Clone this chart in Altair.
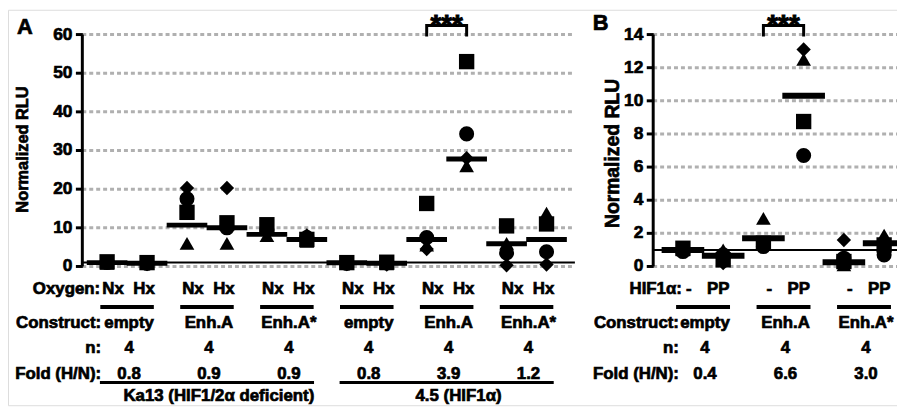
import altair as alt
import pandas as pd

FONT = "Liberation Sans"

# ---------------- Panel A data ----------------
a_oxygen = ["Nx", "Hx"] * 6
a_construct = ["empty", "Enh.A", "Enh.A*", "empty", "Enh.A", "Enh.A*"]
a_n = ["4"] * 6
a_fold = ["0.8", "0.9", "0.9", "0.8", "3.9", "1.2"]
a_groups = ["Ka13 (HIF1/2\u03b1 deficient)", "4.5 (HIF1\u03b1)"]
a_square = [1.2, 1.0, 14.0, 11.3, 10.8, 7.0, 1.0, 1.1, 16.3, 53.0, 10.5, 11.0]
a_circle = [1.0, 0.8, 17.5, 10.0, 9.5, 7.5, 0.8, 0.9, 7.5, 34.3, 3.5, 3.8]
a_triangle = [0.8, 0.9, 6.0, 6.0, 8.0, 6.5, 0.9, 0.7, 5.5, 26.0, 6.0, 13.8]
a_diamond = [1.1, 0.6, 20.3, 20.3, 9.0, 8.0, 0.6, 0.5, 4.5, 28.0, 0.3, 0.5]
a_mean = [1.0, 0.85, 10.7, 10.0, 8.3, 7.0, 0.95, 0.85, 7.0, 27.8, 5.9, 7.0]
a_yticks = [0, 10, 20, 30, 40, 50, 60]
a_sig = [8, 9]

# ---------------- Panel B data ----------------
b_hif = ["-", "PP"] * 3
b_construct = ["empty", "Enh.A", "Enh.A*"]
b_n = ["4"] * 3
b_fold = ["0.4", "6.6", "3.0"]
b_square = [1.1, 0.4, 1.4, 8.75, 0.3, 1.3]
b_circle = [0.9, 0.7, 1.2, 6.7, 0.5, 0.7]
b_triangle = [1.0, 1.0, 2.9, 12.5, 0.1, 1.9]
b_diamond = [1.0, 0.2, 1.3, 13.1, 1.6, 1.2]
b_mean = [1.0, 0.65, 1.7, 10.3, 0.25, 1.4]
b_yticks = [0, 2, 4, 6, 8, 10, 12, 14]
b_sig = [2, 3]

rows_a = ["Oxygen:", "Construct:", "n:", "Fold (H/N):"]
rows_b = ["HIF1\u03b1:", "Construct:", "n:", "Fold (H/N):"]
ytitle = "Normalized RLU"
stars = "***"

SHAPES = ["square", "circle", "triangle", "diamond"]
shape_scale = alt.Scale(domain=SHAPES, range=["square", "circle", "triangle-up", "diamond"])
size_scale = alt.Scale(domain=SHAPES, range=[240, 210, 270, 250])

ROW_Y = dict(top=282, uline=300, construct=316, n=341, fold=368, fline=376, group=390)


def one(text):
    return pd.DataFrame({"t": [text]})


def txt(data, **kw):
    base = dict(font=FONT, fontWeight="bold", fontSize=17, color="black", baseline="middle",
                stroke="black", strokeWidth=0.7)
    base.update(kw)
    return alt.Chart(data).mark_text(**base)


def panel(reps, means, yticks, xdom, xrange, ymax, cat_labels, cat_dx, pairs, n, fold,
          rows, row_right, sig, tick_size, tick_thick, title_letter, letter_xy,
          title_xy, title_size, groups=None):
    xs = alt.Scale(domain=xdom, range=xrange, nice=False, zero=False)
    ys = alt.Scale(domain=[0, ymax], range=[259, 25], nice=False)
    X = lambda f: alt.X(f, scale=xs, axis=None)
    Y = lambda f: alt.Y(f, scale=ys, axis=None)
    ncat = len(means)

    pts = pd.DataFrame(
        [{"idx": i, "v": vals[i], "rep": s} for s, vals in zip(SHAPES, reps) for i in range(ncat)]
    )
    mdf = pd.DataFrame({"idx": list(range(ncat)), "m": means})
    tdf = pd.DataFrame({"y": yticks, "lo": xdom[0], "hi": xdom[1]})
    axdf = pd.DataFrame({"x": [xdom[0]], "y0": [0], "y1": [ymax]})
    refdf = pd.DataFrame({"lo": [xdom[0]], "hi": [xdom[1]], "y": [1]})
    catdf = pd.DataFrame({"idx": list(range(ncat)), "lab": cat_labels, "k": [i % 2 for i in range(ncat)]})
    npair = ncat // 2
    pdf = pd.DataFrame({
        "c": [2 * p + 0.5 for p in range(npair)],
        "construct": pairs, "n": n, "fold": fold,
    })
    pdf["lo"] = pdf["c"] - 0.67
    pdf["hi"] = pdf["c"] + 0.67
    br = pd.DataFrame({"x": [sig[0], sig[0], sig[1], sig[1]],
                       "y": [ymax * 0.992, ymax * 1.039, ymax * 1.039, ymax * 0.992],
                       "o": [0, 1, 2, 3]})
    sdf = pd.DataFrame({"c": [(sig[0] + sig[1]) / 2], "t": [stars]})

    layers = [
        alt.Chart(tdf).mark_rule(color="#b0b0b0", strokeWidth=3, strokeDash=[4, 3]).encode(
            x=X("lo:Q"), x2="hi:Q", y=Y("y:Q")),
        alt.Chart(refdf).mark_rule(color="black", strokeWidth=2).encode(
            x=X("lo:Q"), x2="hi:Q", y=Y("y:Q")),
        alt.Chart(mdf).mark_tick(orient="horizontal", size=tick_size, thickness=tick_thick,
                                 color="black", opacity=1).encode(x=X("idx:Q"), y=Y("m:Q")),
        alt.Chart(pts).mark_point(filled=True, color="black", opacity=1).encode(
            x=X("idx:Q"), y=Y("v:Q"),
            shape=alt.Shape("rep:N", scale=shape_scale, legend=None),
            size=alt.Size("rep:N", scale=size_scale, legend=None)),
        alt.Chart(axdf).mark_rule(color="black", strokeWidth=3).encode(
            x=X("x:Q"), y=Y("y0:Q"), y2="y1:Q"),
        alt.Chart(tdf).mark_tick(orient="horizontal", size=7, thickness=3, color="black",
                                 xOffset=-3, opacity=1).encode(x=X("lo:Q"), y=Y("y:Q")),
        txt(tdf, align="right", dx=-10, fontSize=17.5).encode(x=X("lo:Q"), y=Y("y:Q"), text="y:Q"),
        alt.Chart(br).mark_line(color="black", strokeWidth=3, strokeCap="butt").encode(
            x=X("x:Q"), y=Y("y:Q"), order="o:Q"),
        txt(sdf, fontSize=28, baseline="alphabetic", strokeWidth=1).encode(
            x=X("c:Q"), y=alt.value(24), text="t:N"),
        # category labels row
        txt(catdf[catdf.k == 0], dx=cat_dx[0]).encode(x=X("idx:Q"), y=alt.value(ROW_Y["top"]), text="lab:N"),
        txt(catdf[catdf.k == 1], dx=cat_dx[1]).encode(x=X("idx:Q"), y=alt.value(ROW_Y["top"]), text="lab:N"),
        alt.Chart(pdf).mark_rule(color="black", strokeWidth=4).encode(
            x=X("lo:Q"), x2="hi:Q", y=alt.value(ROW_Y["uline"])),
        txt(pdf, dx=2).encode(x=X("c:Q"), y=alt.value(ROW_Y["construct"]), text="construct:N"),
        txt(pdf, dx=2).encode(x=X("c:Q"), y=alt.value(ROW_Y["n"]), text="n:N"),
        txt(pdf, dx=2).encode(x=X("c:Q"), y=alt.value(ROW_Y["fold"]), text="fold:N"),
    ]
    for lab, key in zip(rows, ["top", "construct", "n", "fold"]):
        layers.append(txt(one(lab), align="right").encode(
            x=alt.value(row_right[0] if key == "top" else row_right[1]),
            y=alt.value(ROW_Y[key]), text="t:N"))
    # panel letter and y title
    layers.append(txt(one(title_letter), fontSize=22, baseline="alphabetic", align="left").encode(
        x=alt.value(letter_xy[0]), y=alt.value(letter_xy[1]), text="t:N"))
    layers.append(txt(one(ytitle), fontSize=title_size, angle=270).encode(
        x=alt.value(title_xy[0]), y=alt.value(title_xy[1]), text="t:N"))
    if groups is not None:
        gdf = pd.DataFrame({"c": [2.5, 8.5], "g": groups})
        gdf["lo"] = gdf["c"] - 2.68
        gdf["hi"] = gdf["c"] + 2.68
        layers.append(alt.Chart(gdf).mark_rule(color="black", strokeWidth=3).encode(
            x=X("lo:Q"), x2="hi:Q", y=alt.value(ROW_Y["fline"])))
        layers.append(txt(gdf, dx=12).encode(x=X("c:Q"), y=alt.value(ROW_Y["group"]), text="g:N"))
    return alt.layer(*layers)


pa = panel([a_square, a_circle, a_triangle, a_diamond], a_mean, a_yticks,
           [-0.62, 11.71], [75, 572], 60, a_oxygen, (6, -3), a_construct, a_n, a_fold,
           rows_a, (93, 94), a_sig, 41, 5, "A", (9, 24), (15, 141), 16.5, groups=a_groups)
pb = panel([b_square, b_circle, b_triangle, b_diamond], b_mean, b_yticks,
           [-0.739, 5.32], [651, 897], 14, b_hif, (6, -5), b_construct, b_n, b_fold,
           rows_b, (680, 677), b_sig, 43, 6, "B", (590, 20), (610, 145), 19.5)

chart = alt.layer(pa, pb).resolve_scale(x="independent", y="independent").properties(
    width=897, height=399, autosize=alt.AutoSizeParams(type="none"), padding=0
).configure_view(strokeWidth=0).configure(font=FONT)

chart.save("out.html", embed_options={"renderer": "svg", "actions": False})
